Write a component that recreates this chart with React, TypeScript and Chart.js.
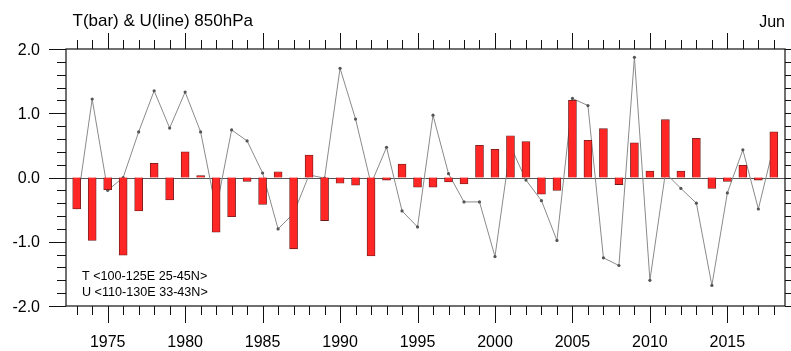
import { useEffect, useRef } from 'react';
import { Chart, registerables } from 'chart.js';

Chart.register(...registerables);

// Years on the x axis
const years = [
  1973, 1974, 1975, 1976, 1977, 1978, 1979, 1980, 1981, 1982,
  1983, 1984, 1985, 1986, 1987, 1988, 1989, 1990, 1991, 1992,
  1993, 1994, 1995, 1996, 1997, 1998, 1999, 2000, 2001, 2002,
  2003, 2004, 2005, 2006, 2007, 2008, 2009, 2010, 2011, 2012,
  2013, 2014, 2015, 2016, 2017, 2018,
];

// 850hPa temperature anomaly (bars)
const tBar = [
  -0.49, -0.98, -0.19, -1.21, -0.52, 0.22, -0.35, 0.40, 0.03, -0.85,
  -0.61, -0.06, -0.42, 0.09, -1.11, 0.35, -0.67, -0.09, -0.12, -1.22,
  -0.04, 0.21, -0.15, -0.15, -0.07, -0.10, 0.50, 0.44, 0.65, 0.56,
  -0.26, -0.20, 1.20, 0.58, 0.76, -0.11, 0.54, 0.10, 0.90, 0.10,
  0.61, -0.17, -0.06, 0.19, -0.04, 0.71,
];

// 850hPa zonal wind anomaly (line)
const uLine = [
  -0.47, 1.22, -0.20, 0.00, 0.71, 1.35, 0.77, 1.33, 0.71, -0.50,
  0.74, 0.57, 0.07, -0.80, -0.56, 0.04, -0.01, 1.70, 0.91, -0.10,
  0.47, -0.52, -0.77, 0.97, 0.06, -0.38, -0.38, -1.23, 0.49, -0.04,
  -0.36, -0.98, 1.23, 1.12, -1.25, -1.37, 1.87, -1.60, 0.07, -0.17,
  -0.40, -1.68, -0.24, 0.43, -0.49, 0.50,
];

const xMajorYears = [1975, 1980, 1985, 1990, 1995, 2000, 2005, 2010, 2015];
const yMajorValues = [-2, -1, 0, 1, 2];
const yTickLabels = ['-2.0', '-1.0', '0.0', '1.0', '2.0'];

const titleText = 'T(bar) & U(line) 850hPa';
const monthText = 'Jun';
const regionLines = ['T <100-125E 25-45N>', 'U <110-130E 33-43N>'];

const FONT = '"Liberation Sans", Arial, Helvetica, sans-serif';

const frameAndTicks = {
  id: 'frameAndTicks',
  beforeDatasetsDraw(chart: any) {
    const { ctx, chartArea } = chart;
    const y0 = Math.round(chart.scales.y.getPixelForValue(0)) + 0.5;
    ctx.save();
    ctx.strokeStyle = '#555';
    ctx.lineWidth = 1;
    ctx.beginPath();
    ctx.moveTo(chartArea.left, y0);
    ctx.lineTo(chartArea.right, y0);
    ctx.stroke();
    ctx.restore();
  },
  afterDraw(chart: any) {
    const { ctx, chartArea } = chart;
    const { left, right, top, bottom } = chartArea;
    const xs = chart.scales.x;
    const ys = chart.scales.y;
    ctx.save();
    ctx.strokeStyle = '#111';
    ctx.lineWidth = 1.2;
    ctx.strokeRect(left, top, right - left, bottom - top);

    // y ticks every 0.2, longer at whole numbers, on both sides
    ctx.lineWidth = 1;
    ctx.beginPath();
    for (let k = -10; k <= 10; k++) {
      const v = k / 5;
      const y = Math.round(ys.getPixelForValue(v)) + 0.5;
      const len = k % 5 === 0 ? 17 : 9;
      ctx.moveTo(left - len, y);
      ctx.lineTo(left, y);
      ctx.moveTo(right, y);
      ctx.lineTo(right + len, y);
    }
    // x ticks every year, longer every five years, top and bottom
    for (const yr of years) {
      const x = Math.round(xs.getPixelForValue(yr)) + 0.5;
      const major = xMajorYears.includes(yr);
      ctx.moveTo(x, bottom);
      ctx.lineTo(x, bottom + (major ? 17 : 9));
      ctx.moveTo(x, top);
      ctx.lineTo(x, top - (major ? 16 : 9));
    }
    ctx.stroke();

    ctx.fillStyle = '#000';
    ctx.font = `16px ${FONT}`;
    ctx.textAlign = 'right';
    ctx.textBaseline = 'alphabetic';
    yMajorValues.forEach((v, i) => {
      ctx.fillText(yTickLabels[i], 40, ys.getPixelForValue(v) + 5.7);
    });
    ctx.textAlign = 'center';
    xMajorYears.forEach((yr) => {
      ctx.fillText(String(yr), xs.getPixelForValue(yr), 346.5);
    });

    ctx.font = `17px ${FONT}`;
    ctx.textAlign = 'left';
    ctx.fillText(titleText, 72.5, 26);
    ctx.font = `16px ${FONT}`;
    ctx.textAlign = 'right';
    ctx.fillText(monthText, 785, 26.5);

    ctx.font = `12.6px ${FONT}`;
    ctx.textAlign = 'left';
    ctx.fillText(regionLines[0], 82, 280);
    ctx.fillText(regionLines[1], 82, 295.5);
    ctx.restore();
  },
};

export default function App() {
  const canvasRef = useRef<HTMLCanvasElement>(null);

  useEffect(() => {
    const canvas = canvasRef.current;
    if (!canvas) return;
    const chart = new Chart(canvas, {
      type: 'bar',
      data: {
        datasets: [
          {
            type: 'bar',
            label: 'T',
            data: years.map((x, i) => ({ x, y: tBar[i] })),
            backgroundColor: '#ff2626',
            borderColor: '#6a1c1c',
            borderWidth: 0.8,
            barThickness: 8,
            order: 1,
          },
          {
            type: 'line',
            label: 'U',
            data: years.map((x, i) => ({ x, y: uLine[i] })),
            borderColor: '#8a8a8a',
            borderWidth: 1,
            pointRadius: 1.6,
            pointBackgroundColor: '#555',
            pointBorderWidth: 0,
            tension: 0,
            order: 2,
          },
        ] as any,
      },
      options: {
        responsive: false,
        animation: false,
        layout: { padding: { left: 66, right: 6, top: 49, bottom: 45 } },
        plugins: { legend: { display: false }, tooltip: { enabled: false } },
        scales: {
          x: { type: 'linear', min: 1972.31, max: 2018.72, display: false, offset: false },
          y: { min: -2, max: 2, display: false },
        },
      },
      plugins: [frameAndTicks],
    });
    return () => chart.destroy();
  }, []);

  return (
    <div style={{ position: 'absolute', left: 0, top: 0, width: 791, height: 351, background: '#fff' }}>
      <canvas ref={canvasRef} width={791} height={351} style={{ display: 'block' }} />
    </div>
  );
}
